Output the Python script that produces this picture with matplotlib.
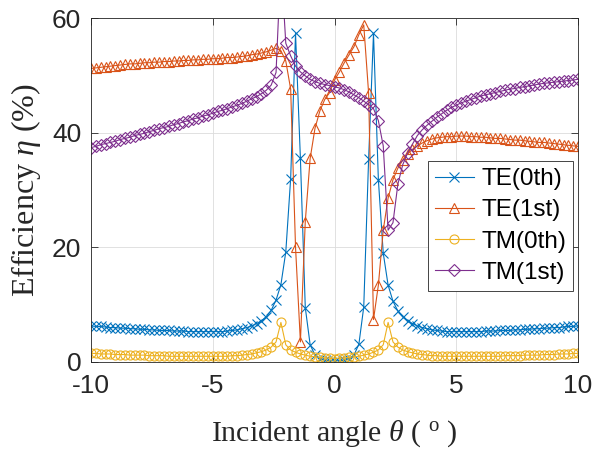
import numpy as np
import matplotlib
matplotlib.use("Agg")
import matplotlib.pyplot as plt

plt.rcParams['mathtext.fontset'] = 'custom'
plt.rcParams['mathtext.it'] = 'Liberation Serif:italic'
plt.rcParams['mathtext.rm'] = 'Liberation Serif'
plt.rcParams['axes.unicode_minus'] = False

# incident angle grid (deg)
theta = np.linspace(-10, 10, 101)

te0 = [6.3, 6.2, 6.2, 6.1, 6.0, 6.0, 5.9, 5.9, 5.8, 5.8,
       5.7, 5.7, 5.6, 5.6, 5.5, 5.5, 5.5, 5.4, 5.4, 5.4,
       5.3, 5.3, 5.3, 5.3, 5.3, 5.3, 5.3, 5.3, 5.4, 5.5,
       5.6, 5.8, 6.0, 6.3, 6.7, 7.2, 7.9, 9.0, 10.8, 13.5,
       19.2, 32.0, 57.3, 35.5, 9.5, 3.0, 1.2, 0.6, 0.3, 0.2,
       0.2,
       0.2, 0.3, 0.6, 1.2, 3.1, 9.6, 35.4, 57.3, 31.8, 19.0,
       13.4, 10.6, 8.9, 7.9, 7.2, 6.7, 6.3, 6.0, 5.8, 5.6,
       5.5, 5.4, 5.3, 5.3, 5.3, 5.3, 5.3, 5.3, 5.3, 5.3,
       5.4, 5.4, 5.4, 5.5, 5.5, 5.5, 5.6, 5.6, 5.7, 5.7,
       5.8, 5.8, 5.9, 5.9, 6.0, 6.0, 6.1, 6.2, 6.2, 6.3]

te1 = [51.2, 51.3, 51.4, 51.5, 51.6, 51.7, 51.8, 51.9, 52.0, 52.0,
       52.1, 52.2, 52.2, 52.3, 52.3, 52.4, 52.4, 52.5, 52.5, 52.6,
       52.6, 52.7, 52.7, 52.8, 52.8, 52.9, 52.9, 53.0, 53.1, 53.1,
       53.2, 53.3, 53.4, 53.6, 53.7, 53.9, 54.1, 54.4, 54.7, 54.3,
       52.5, 47.6, 20.0, 3.5, 24.5, 35.5, 40.8, 43.8, 45.8, 47.0,
       49.2,
       50.6, 52.2, 53.6, 55.0, 57.1, 58.8, 46.9, 7.4, 13.4, 23.0,
       28.6, 31.8, 33.8, 35.2, 36.3, 37.1, 37.7, 38.2, 38.6, 38.9,
       39.1, 39.2, 39.3, 39.3, 39.4, 39.4, 39.4, 39.3, 39.3, 39.2,
       39.2, 39.1, 39.0, 39.0, 38.9, 38.8, 38.7, 38.7, 38.6, 38.5,
       38.4, 38.3, 38.3, 38.2, 38.1, 38.0, 37.9, 37.8, 37.7, 37.6]

tm0 = [1.5, 1.5, 1.4, 1.4, 1.4, 1.3, 1.3, 1.3, 1.2, 1.2,
       1.2, 1.2, 1.1, 1.1, 1.1, 1.1, 1.0, 1.0, 1.0, 1.0,
       1.0, 1.0, 1.0, 1.0, 1.0, 1.0, 1.0, 1.0, 1.0, 1.1,
       1.1, 1.2, 1.3, 1.4, 1.6, 1.8, 2.1, 2.6, 3.5, 6.9,
       3.0, 2.1, 1.7, 1.4, 1.2, 1.0, 0.9, 0.8, 0.7, 0.7,
       0.6,
       0.7, 0.7, 0.8, 0.9, 1.0, 1.2, 1.4, 1.7, 2.1, 3.0,
       6.9, 3.5, 2.6, 2.1, 1.8, 1.6, 1.4, 1.3, 1.2, 1.1,
       1.1, 1.0, 1.0, 1.0, 1.0, 1.0, 1.0, 1.0, 1.0, 1.0,
       1.0, 1.0, 1.0, 1.0, 1.1, 1.1, 1.1, 1.1, 1.2, 1.2,
       1.2, 1.2, 1.3, 1.3, 1.3, 1.4, 1.4, 1.4, 1.5, 1.5]

tm1 = [37.4, 37.6, 37.9, 38.1, 38.3, 38.5, 38.8, 39.0, 39.2, 39.5,
       39.7, 39.9, 40.2, 40.4, 40.7, 40.9, 41.1, 41.4, 41.6, 41.9,
       42.1, 42.4, 42.6, 42.9, 43.1, 43.4, 43.7, 43.9, 44.2, 44.5,
       44.8, 45.1, 45.5, 45.9, 46.3, 46.8, 47.4, 48.3, 50.5, 70.0,
       55.6, 53.4, 51.6, 50.6, 49.9, 49.3, 48.9, 48.6, 48.4, 48.2,
       48.0,
       47.8, 47.5, 47.1, 46.6, 46.1, 45.5, 44.9, 44.2, 42.1, 37.7,
       23.0, 24.3, 31.0, 34.4, 36.5, 38.0, 39.5, 40.5, 41.3, 42.0,
       42.7, 43.3, 43.9, 44.4, 44.8, 45.2, 45.5, 45.8, 46.1, 46.4,
       46.6, 46.8, 47.0, 47.2, 47.4, 47.6, 47.7, 47.9, 48.0, 48.2,
       48.3, 48.5, 48.6, 48.7, 48.8, 48.9, 49.0, 49.1, 49.2, 49.3]

labels = ['TE(0th)', 'TE(1st)', 'TM(0th)', 'TM(1st)']
colors = ['#0072BD', '#D95319', '#EDB120', '#7E2F8E']
markers = ['x', '^', 'o', 'D']
msizes = [6.5, 7.5, 6.5, 6]

axcol = '#262626'

fig = plt.figure(figsize=(6.06, 4.55), dpi=100)
ax = fig.add_axes([0.150, 0.2044, 0.804, 0.756])

for y, lab, c, m, ms in zip([te0, te1, tm0, tm1], labels, colors, markers, msizes):
    ax.plot(theta, y, color=c, lw=0.8, marker=m, ms=ms, mfc='none',
            mec=c, mew=0.8, label=lab)

ax.set_xlim(-10, 10)
ax.set_ylim(0, 60)
ax.set_xticks([-10, -5, 0, 5, 10])
ax.set_yticks([0, 20, 40, 60])
ax.grid(True, color='#dcdcdc', lw=0.6)
ax.set_axisbelow(True)
ax.tick_params(direction='in', top=True, right=True, length=5, width=0.6,
               colors=axcol, labelsize=19)
ax.tick_params(axis='x', pad=9)
ax.tick_params(axis='y', pad=7)
for lbl in ax.get_xticklabels() + ax.get_yticklabels():
    lbl.set_family('Liberation Sans')
for sp in ax.spines.values():
    sp.set_color(axcol)
    sp.set_linewidth(0.6)

ax.set_xlabel(r'Incident angle $\theta$ ( $^{\rm o}$ )', family='Liberation Serif',
              fontsize=21.5, color=axcol, labelpad=14)
ax.set_ylabel(r'Efficiency $\eta$ (%)', family='Liberation Serif',
              fontsize=23, color=axcol, labelpad=6)

leg = ax.legend(loc='upper right', bbox_to_anchor=(0.99, 0.585),
                prop={'family': 'Liberation Sans', 'size': 17.5},
                fancybox=False, framealpha=1, edgecolor='#262626',
                handlelength=1.6, handletextpad=0.3, borderpad=0.3,
                labelspacing=0.38, borderaxespad=0)
leg.get_frame().set_linewidth(0.6)

fig.savefig('out.png', dpi=100)
